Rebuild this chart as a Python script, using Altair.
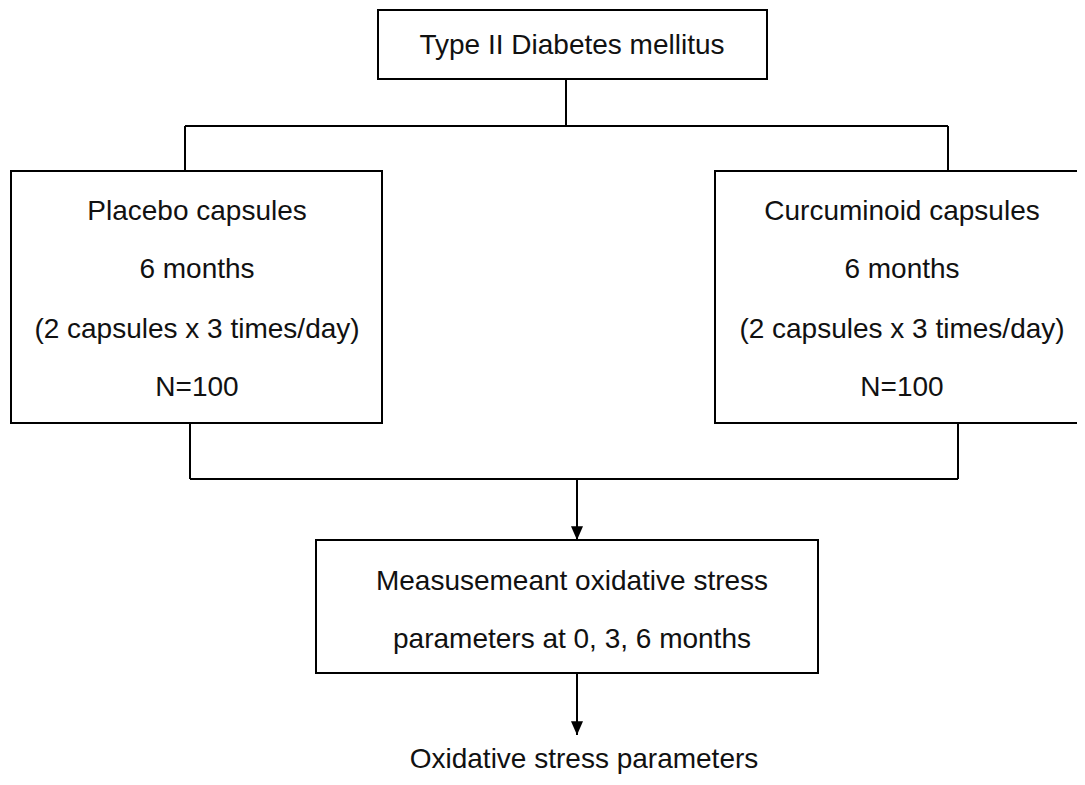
import altair as alt
import pandas as pd

# Boxes (page pixel coordinates)
box_x1 = [378, 11, 715, 316]
box_x2 = [767, 382, 1092, 818]
box_y1 = [10, 171, 171, 540]
box_y2 = [79, 423, 423, 673]

# Connector segments
seg_x1 = [566, 185, 185, 948, 190, 958, 190, 577, 577]
seg_x2 = [566, 948, 185, 948, 190, 958, 958, 577, 577]
seg_y1 = [79, 126, 126, 126, 423, 423, 479, 479, 673]
seg_y2 = [126, 126, 171, 171, 479, 479, 479, 540, 735]

# Arrow tips
arrow_x = [577, 577]
arrow_y = [540, 735]

# Labels
labels = [
    "Type II Diabetes mellitus",
    "Placebo capsules", "6 months", "(2 capsules x 3 times/day)", "N=100",
    "Curcuminoid capsules", "6 months", "(2 capsules x 3 times/day)", "N=100",
    "Measusemeant oxidative stress", "parameters at 0, 3, 6 months",
    "Oxidative stress parameters",
]
label_x = [572, 197, 197, 197, 197, 902, 902, 902, 902, 572, 572, 584]
label_y = [46, 212, 270, 330, 388, 212, 270, 330, 388, 582, 640, 760]

boxes = pd.DataFrame({"x": box_x1, "x2": box_x2, "y": box_y1, "y2": box_y2})
segs = pd.DataFrame({"x": seg_x1, "x2": seg_x2, "y": seg_y1, "y2": seg_y2})
arrows = pd.DataFrame({"x": arrow_x, "y": arrow_y})
texts = pd.DataFrame({"t": labels, "x": label_x, "y": label_y})

W, H = 1069, 769
xs = alt.Scale(domain=[8, 8 + W], nice=False, zero=False)
ys = alt.Scale(domain=[8, 8 + H], nice=False, zero=False, reverse=True)
X = lambda f: alt.X(f, type="quantitative", scale=xs, axis=None)
Y = lambda f: alt.Y(f, type="quantitative", scale=ys, axis=None)

rects = alt.Chart(boxes).mark_rect(fill="white", stroke="black", strokeWidth=2, clip=True).encode(
    x=X("x"), x2="x2", y=Y("y"), y2="y2"
)
rules = alt.Chart(segs).mark_rule(color="black", strokeWidth=2).encode(
    x=X("x"), x2="x2", y=Y("y"), y2="y2"
)
heads = alt.Chart(arrows).mark_point(
    shape="M -1 -2.3 L 1 -2.3 L 0 0 Z", filled=True, color="black", size=144, opacity=1
).encode(x=X("x"), y=Y("y"))
text = alt.Chart(texts).mark_text(
    font="Liberation Sans", fontSize=28, color="#111", baseline="middle", align="center"
).encode(x=X("x"), y=Y("y"), text="t:N")

chart = alt.layer(rules, rects, heads, text).properties(
    width=W, height=H, padding=0, autosize="none"
).configure_view(stroke=None)

chart.save("out.html", embed_options={"renderer": "svg", "actions": False})
